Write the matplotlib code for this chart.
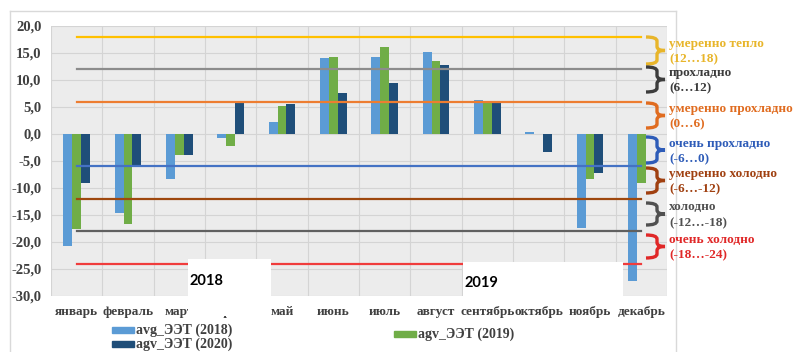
import numpy as np
import matplotlib.pyplot as plt
from matplotlib.patches import Rectangle, PathPatch
from matplotlib.path import Path

W, H = 796, 352

months = ["январь", "февраль", "март", "апрель", "май", "июнь", "июль",
          "август", "сентябрь", "октябрь", "ноябрь", "декабрь"]
eet_2018 = [-20.8, -14.7, -8.4, -0.7, 2.2, 14.1, 14.3, 15.2, 6.3, 0.3, -17.4, -27.3]
eet_2019 = [-17.5, -16.7, -3.9, -2.2, 5.1, 14.2, 16.2, 13.5, 5.8, 0.0, -8.4, -9.1]
eet_2020 = [-9.0, -6.1, -3.9, 5.8, 5.5, 7.6, 9.4, 12.8, 5.8, -3.3, -7.3, np.nan]
series_names = ["avg_ЭЭТ (2018)", "agv_ЭЭТ (2019)", "agv_ЭЭТ (2020)"]
series_colors = ["#5b9bd5", "#70ad47", "#1f4e79"]

levels = [18, 12, 6, -6, -12, -18, -24]
level_colors = ["#ffc000", "#8c8c8c", "#ed7d31", "#4472c4", "#9e480e", "#606060", "#f03c3c"]
zone_names = ["умеренно тепло", "прохладно", "умеренно прохладно", "очень прохладно",
              "умеренно холодно", "холодно", "очень холодно"]
zone_ranges = ["(12…18)", "(6…12)", "(0…6)", "(-6…0)", "(-6…-12)", "(-12…-18)", "(-18…-24)"]
zone_colors = ["#e8b52a", "#3c3c3c", "#e06c20", "#2e5cb8", "#a04010", "#505050", "#e02828"]

SERIF = "Liberation Serif"
TXT = "#404040"


def px(x, y):
    # pixel coords (top-left origin) -> figure fraction
    return x / W, 1 - y / H


fig = plt.figure(figsize=(W / 100, H / 100), dpi=100)

# outer chart frame
for (x0, y0), (x1, y1) in [((10, 11), (676, 11)), ((10, 11), (10, 352)), ((676, 11), (676, 352))]:
    a, b = px(x0, y0)
    c, d = px(x1, y1)
    fig.add_artist(plt.Line2D([a, c], [b, d], color="#d9d9d9", lw=1))

l, t = px(51, 26)
r, b = px(667, 296)
ax = fig.add_axes([l, b, r - l, t - b])
ax.set_facecolor("#ececec")

x = np.arange(len(months))
bw = 0.175
for i, (vals, c, name) in enumerate(zip([eet_2018, eet_2019, eet_2020], series_colors, series_names)):
    ax.bar(x + (i - 1) * bw, vals, width=bw, color=c, zorder=3, label=name)

for lv, c in zip(levels, level_colors):
    ax.plot([0, 11], [lv, lv], color=c, lw=1.6, zorder=4)

ax.set_xlim(-0.5, 11.5)
ax.set_ylim(-30, 20)
ax.set_yticks(np.arange(-30, 21, 5))
ax.set_yticklabels([f"{v:.1f}".replace(".", ",") for v in range(-30, 21, 5)])
ax.set_xticks(x)
ax.set_xticklabels(months)
ax.set_xticks(np.arange(-0.5, 12, 1), minor=True)
ax.grid(True, which="minor", axis="x", color="#d4d4d4", lw=0.8, zorder=0)
ax.grid(True, which="major", axis="y", color="#d4d4d4", lw=0.8, zorder=0)
ax.tick_params(which="both", length=0)
ax.tick_params(axis="y", pad=7)
ax.tick_params(axis="x", pad=7)
for lab in ax.get_yticklabels():
    lab.set_fontsize(10.5)
for lab in ax.get_xticklabels():
    lab.set_fontsize(9.5)
for lab in ax.get_yticklabels() + ax.get_xticklabels():
    lab.set_fontfamily(SERIF)
    lab.set_fontweight("bold")
    lab.set_color(TXT)
for s in ax.spines.values():
    s.set_visible(False)

# curly braces and zone labels on the right
brace_spans = [(37, 64), (67, 92), (103, 128), (137, 163), (168, 193), (203, 225), (235, 258)]
for (yt, yb), c, name, rng in zip(brace_spans, zone_colors, zone_names, zone_ranges):
    xa, xv, xt = 646, 657, 665
    ym = (yt + yb) / 2
    pts = [(xa, yt), (xv, yt), (xv, yt + 4), (xv, ym - 4), (xv, ym), (xt, ym),
           (xv, ym), (xv, ym + 4), (xv, yb - 4), (xv, yb), (xa, yb)]
    codes = [Path.MOVETO, Path.CURVE3, Path.CURVE3, Path.LINETO, Path.CURVE3, Path.CURVE3,
             Path.CURVE3, Path.CURVE3, Path.LINETO, Path.CURVE3, Path.CURVE3]
    path = Path([px(*p) for p in pts], codes)
    fig.add_artist(PathPatch(path, fill=False, edgecolor=c, lw=2.4, transform=fig.transFigure))
    fx, fy = px(669, ym - 6.5)
    fig.text(fx, fy, name, color=c, fontsize=9.5, fontweight="bold", family=SERIF, va="center")
    fx, fy = px(669, ym + 9)
    fig.text(fx, fy, rng, color=c, fontsize=9.5, fontweight="bold", family=SERIF, va="center")

# legend, laid out as in the source picture
legend_pos = [(112, 330), (394, 334), (112, 344)]
for (lx, ly), c, name in zip(legend_pos, series_colors, series_names):
    rx, ry = px(lx, ly + 3)
    fig.add_artist(Rectangle((rx, ry), 22 / W, 6 / H, color=c, transform=fig.transFigure))
    tx, ty = px(lx + 24, ly)
    fig.text(tx, ty, name, color=TXT, fontsize=10, fontweight="bold", family=SERIF, va="center")

# white cover boxes with year labels
for (x0, y0, x1, y1), year, (tx0, ty0) in [((188, 259, 271, 316), "2018", (190, 281)),
                                           ((463, 262, 623, 298), "2019", (465, 283))]:
    bx, by = px(x0, y1)
    fig.add_artist(Rectangle((bx, by), (x1 - x0) / W, (y1 - y0) / H, facecolor="white",
                             edgecolor="none", transform=fig.transFigure, zorder=10))
    tx, ty = px(tx0, ty0)
    fig.text(tx, ty, year, color="black", fontsize=10.5, fontweight="bold", family="Lato",
             va="center", zorder=11)

fig.savefig("out.png", dpi=100)
